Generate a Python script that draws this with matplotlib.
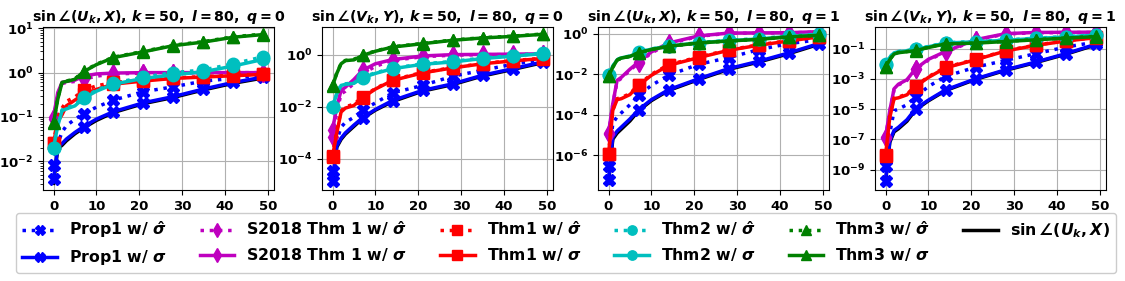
import numpy as np
import matplotlib
matplotlib.use("Agg")
import matplotlib.pyplot as plt

plt.rcParams['font.family'] = ['DejaVu Sans']
plt.rcParams['font.weight'] = 'bold'
plt.rcParams['mathtext.fontset'] = 'custom'
plt.rcParams['mathtext.rm'] = 'DejaVu Sans:bold'
plt.rcParams['mathtext.it'] = 'DejaVu Sans:italic:bold'
plt.rcParams['mathtext.bf'] = 'DejaVu Sans:bold'

iters = [0, 1, 2, 3, 5, 7, 10, 14, 21, 28, 35, 42, 49]
marker_iters = [0, 7, 14, 21, 28, 35, 42, 49]

titles = [r'$\sin\angle(U_k, X)$, $k=50,\ l=80,\ q=0$',
          r'$\sin\angle(V_k, Y)$, $k=50,\ l=80,\ q=0$',
          r'$\sin\angle(U_k, X)$, $k=50,\ l=80,\ q=1$',
          r'$\sin\angle(V_k, Y)$, $k=50,\ l=80,\ q=1$']

# all values are log10 of the plotted quantity
# panel 1
p1_prop1_hat = [-2.09, -1.6, -1.34, -1.2, -1.05, -0.93, -0.78, -0.62, -0.43, -0.32, -0.19, -0.13, -0.04]
p1_prop1 = [-2.41, -1.68, -1.6, -1.5, -1.35, -1.22, -1.05, -0.88, -0.68, -0.54, -0.37, -0.22, -0.1]
p1_s2018_hat = [-1.05, -0.5, -0.25, -0.22, -0.2, -0.15, -0.08, -0.03, -0.01, 0.0, 0.0, 0.0, 0.0]
p1_s2018 = [-1.0, -0.45, -0.22, -0.2, -0.17, -0.08, -0.03, -0.01, 0.0, 0.0, 0.0, 0.0, 0.0]
p1_thm1_hat = [-1.6, -1.0, -0.8, -0.65, -0.55, -0.4, -0.3, -0.22, -0.17, -0.12, -0.09, -0.06, -0.03]
p1_thm1 = [-1.6, -1.1, -0.95, -0.75, -0.62, -0.49, -0.38, -0.26, -0.19, -0.13, -0.1, -0.07, -0.04]
p1_thm2_hat = [-1.7, -1.18, -0.84, -0.8, -0.72, -0.56, -0.4, -0.24, -0.1, 0.0, 0.06, 0.2, 0.36]
p1_thm2 = [-1.7, -1.2, -0.86, -0.82, -0.75, -0.58, -0.42, -0.26, -0.13, -0.05, 0.02, 0.15, 0.3]
p1_thm3_hat = [-1.12, -0.58, -0.21, -0.19, -0.14, 0.03, 0.19, 0.35, 0.48, 0.62, 0.7, 0.81, 0.87]
p1_thm3 = [-1.14, -0.6, -0.22, -0.2, -0.15, 0.02, 0.18, 0.34, 0.47, 0.61, 0.69, 0.8, 0.86]
p1_true = [-2.5, -1.72, -1.64, -1.54, -1.38, -1.25, -1.08, -0.9, -0.7, -0.56, -0.39, -0.24, -0.12]

# panel 2
p2_prop1_hat = [-4.45, -3.3, -2.78, -2.6, -2.4, -2.14, -1.85, -1.47, -1.18, -0.83, -0.6, -0.37, -0.19]
p2_prop1 = [-4.83, -3.5, -3.2, -3.0, -2.7, -2.42, -2.1, -1.76, -1.37, -1.12, -0.79, -0.54, -0.28]
p2_s2018_hat = [-3.17, -2.2, -1.5, -1.4, -1.1, -0.73, -0.45, -0.22, -0.08, -0.02, 0.0, 0.0, 0.02]
p2_s2018 = [-2.9, -2.0, -1.37, -1.25, -0.95, -0.6, -0.35, -0.19, -0.05, 0.0, 0.01, 0.02, 0.03]
p2_thm1_hat = [-3.9, -2.9, -2.15, -2.0, -1.9, -1.62, -1.3, -0.97, -0.68, -0.5, -0.34, -0.23, -0.14]
p2_thm1 = [-3.91, -3.0, -2.2, -2.05, -1.95, -1.65, -1.32, -0.99, -0.7, -0.51, -0.35, -0.24, -0.15]
p2_thm2_hat = [-2.0, -1.5, -1.16, -1.12, -1.08, -0.86, -0.7, -0.52, -0.36, -0.26, -0.13, -0.04, 0.06]
p2_thm2 = [-2.0, -1.5, -1.18, -1.14, -1.1, -0.88, -0.72, -0.54, -0.37, -0.28, -0.15, -0.06, 0.04]
p2_thm3_hat = [-1.18, -0.7, -0.34, -0.22, -0.18, -0.02, 0.14, 0.3, 0.43, 0.56, 0.65, 0.71, 0.79]
p2_thm3 = [-1.2, -0.72, -0.35, -0.23, -0.2, -0.03, 0.13, 0.29, 0.42, 0.55, 0.64, 0.7, 0.78]
p2_true = [-4.9, -3.55, -3.25, -3.05, -2.75, -2.45, -2.13, -1.8, -1.4, -1.15, -0.82, -0.57, -0.31]

# panel 3
p3_prop1_hat = [-6.5, -4.4, -4.1, -3.9, -3.5, -3.04, -2.55, -2.05, -1.51, -1.18, -0.79, -0.49, -0.3]
p3_prop1 = [-7.23, -5.1, -4.8, -4.6, -4.2, -3.75, -3.25, -2.76, -2.22, -1.72, -1.36, -0.95, -0.49]
p3_s2018_hat = [-4.95, -3.5, -2.35, -2.2, -1.8, -1.45, -0.95, -0.5, -0.13, 0.02, 0.03, 0.04, 0.08]
p3_s2018 = [-4.9, -3.45, -2.3, -2.15, -1.75, -1.4, -0.9, -0.46, -0.11, 0.03, 0.04, 0.05, 0.1]
p3_thm1_hat = [-5.95, -3.75, -3.2, -3.15, -2.95, -2.52, -2.0, -1.53, -1.15, -0.8, -0.55, -0.34, -0.14]
p3_thm1 = [-5.95, -3.78, -3.25, -3.2, -3.0, -2.55, -2.05, -1.56, -1.18, -0.82, -0.57, -0.36, -0.16]
p3_thm2_hat = [-2.05, -1.6, -1.28, -1.18, -1.1, -0.92, -0.75, -0.6, -0.44, -0.33, -0.24, -0.12, -0.02]
p3_thm2 = [-2.05, -1.6, -1.29, -1.19, -1.11, -0.93, -0.76, -0.61, -0.45, -0.34, -0.26, -0.14, -0.04]
p3_thm3_hat = [-2.1, -1.65, -1.3, -1.2, -1.12, -0.94, -0.78, -0.62, -0.46, -0.36, -0.28, -0.16, -0.08]
p3_thm3 = [-2.1, -1.65, -1.3, -1.2, -1.12, -0.94, -0.78, -0.62, -0.46, -0.36, -0.28, -0.16, -0.08]
p3_true = [-7.35, -5.2, -4.9, -4.7, -4.3, -3.8, -3.3, -2.8, -2.26, -1.76, -1.4, -0.99, -0.53]

# panel 4
p4_prop1_hat = [-8.73, -6.6, -5.1, -5.0, -4.7, -4.2, -3.5, -2.83, -2.22, -1.77, -1.33, -0.89, -0.56]
p4_prop1 = [-9.77, -7.1, -6.4, -6.2, -5.7, -4.98, -4.4, -3.72, -2.99, -2.39, -1.88, -1.33, -0.71]
p4_s2018_hat = [-6.9, -5.15, -3.7, -3.4, -3.1, -2.37, -1.75, -1.22, -0.43, -0.02, 0.06, 0.07, 0.08]
p4_s2018 = [-6.86, -5.1, -3.65, -3.35, -3.05, -2.33, -1.7, -1.18, -0.4, 0.0, 0.08, 0.09, 0.1]
p4_thm1_hat = [-8.05, -5.5, -4.25, -4.2, -4.0, -3.47, -2.85, -2.23, -1.7, -1.13, -0.76, -0.47, -0.25]
p4_thm1 = [-8.07, -5.55, -4.3, -4.25, -4.05, -3.5, -2.9, -2.26, -1.73, -1.15, -0.78, -0.49, -0.27]
p4_thm2_hat = [-2.04, -1.55, -1.25, -1.18, -1.12, -1.02, -0.85, -0.6, -0.52, -0.42, -0.3, -0.2, -0.08]
p4_thm2 = [-2.06, -1.57, -1.27, -1.2, -1.14, -1.04, -0.87, -0.62, -0.54, -0.44, -0.32, -0.22, -0.1]
p4_thm3_hat = [-2.2, -1.7, -1.33, -1.25, -1.18, -1.11, -0.9, -0.67, -0.62, -0.51, -0.4, -0.29, -0.18]
p4_thm3 = [-2.22, -1.72, -1.35, -1.26, -1.2, -1.12, -0.92, -0.68, -0.63, -0.52, -0.41, -0.3, -0.2]
p4_true = [-9.9, -7.2, -6.5, -6.3, -5.8, -5.05, -4.45, -3.77, -3.03, -2.43, -1.92, -1.37, -0.75]

panels = [
    [p1_prop1_hat, p1_prop1, p1_s2018_hat, p1_s2018, p1_thm1_hat, p1_thm1,
     p1_thm2_hat, p1_thm2, p1_thm3_hat, p1_thm3, p1_true],
    [p2_prop1_hat, p2_prop1, p2_s2018_hat, p2_s2018, p2_thm1_hat, p2_thm1,
     p2_thm2_hat, p2_thm2, p2_thm3_hat, p2_thm3, p2_true],
    [p3_prop1_hat, p3_prop1, p3_s2018_hat, p3_s2018, p3_thm1_hat, p3_thm1,
     p3_thm2_hat, p3_thm2, p3_thm3_hat, p3_thm3, p3_true],
    [p4_prop1_hat, p4_prop1, p4_s2018_hat, p4_s2018, p4_thm1_hat, p4_thm1,
     p4_thm2_hat, p4_thm2, p4_thm3_hat, p4_thm3, p4_true],
]

methods = ['Prop1', 'S2018 Thm 1', 'Thm1', 'Thm2', 'Thm3']
colors = ['b', 'm', 'r', 'c', 'g']
markers = ['X', 'd', 's', 'o', '^']

ylims = [(-2.65, 1.03), (-5.19, 1.06), (-7.7, 0.33), (-10.35, 0.44)]
yticks = [[-2, -1, 0, 1], [-4, -2, 0], [-6, -4, -2, 0], [-9, -7, -5, -3, -1]]

fig = plt.figure(figsize=(11.25, 2.81), dpi=100)
lefts = [43, 322, 598, 875]
W, H = 1125, 281
x = np.array(iters)
mev = [iters.index(m) for m in marker_iters]

handles = []
for p in range(4):
    ax = fig.add_axes([lefts[p]/W, (H-190)/H, 231/W, 163/H])
    data = panels[p]
    ht, = ax.plot(x, 10**np.array(data[10]), color='k', lw=2.5)
    hs = []
    for m in range(5):
        for j, ls in enumerate([':', '-']):
            lbl = r'%s w/ $\hat{\sigma}$' % methods[m] if j == 0 else r'%s w/ $\sigma$' % methods[m]
            h, = ax.plot(x, 10**np.array(data[2*m+j]), color=colors[m], ls=ls, lw=2.5,
                         marker=markers[m], markersize=9, markevery=mev, label=lbl)
            hs.append(h)
    ax.set_yscale('log')
    ax.set_ylim(10**ylims[p][0], 10**ylims[p][1])
    ax.set_yticks([10.0**t for t in yticks[p]])
    ax.set_xticks([0, 10, 20, 30, 40, 50])
    ax.grid(True, which='major', color='#b0b0b0', lw=0.8)
    ax.tick_params(labelsize=9.5)
    ax.set_title(titles[p], fontsize=10.2, fontweight='bold', pad=4)
    if p == 0:
        handles = hs + [ht]

labels = [h.get_label() for h in handles[:-1]] + [r'$\sin\angle(U_k, X)$']
fig.legend(handles, labels, loc='upper center', bbox_to_anchor=(0.503, 1-213/H), ncol=6,
           prop={'weight': 'bold', 'size': 11.3}, markerscale=0.75, columnspacing=2.1,
           handlelength=2.2, handletextpad=0.76, labelspacing=0.5, borderaxespad=0,
           framealpha=1.0)

fig.savefig('out.png', dpi=100)
